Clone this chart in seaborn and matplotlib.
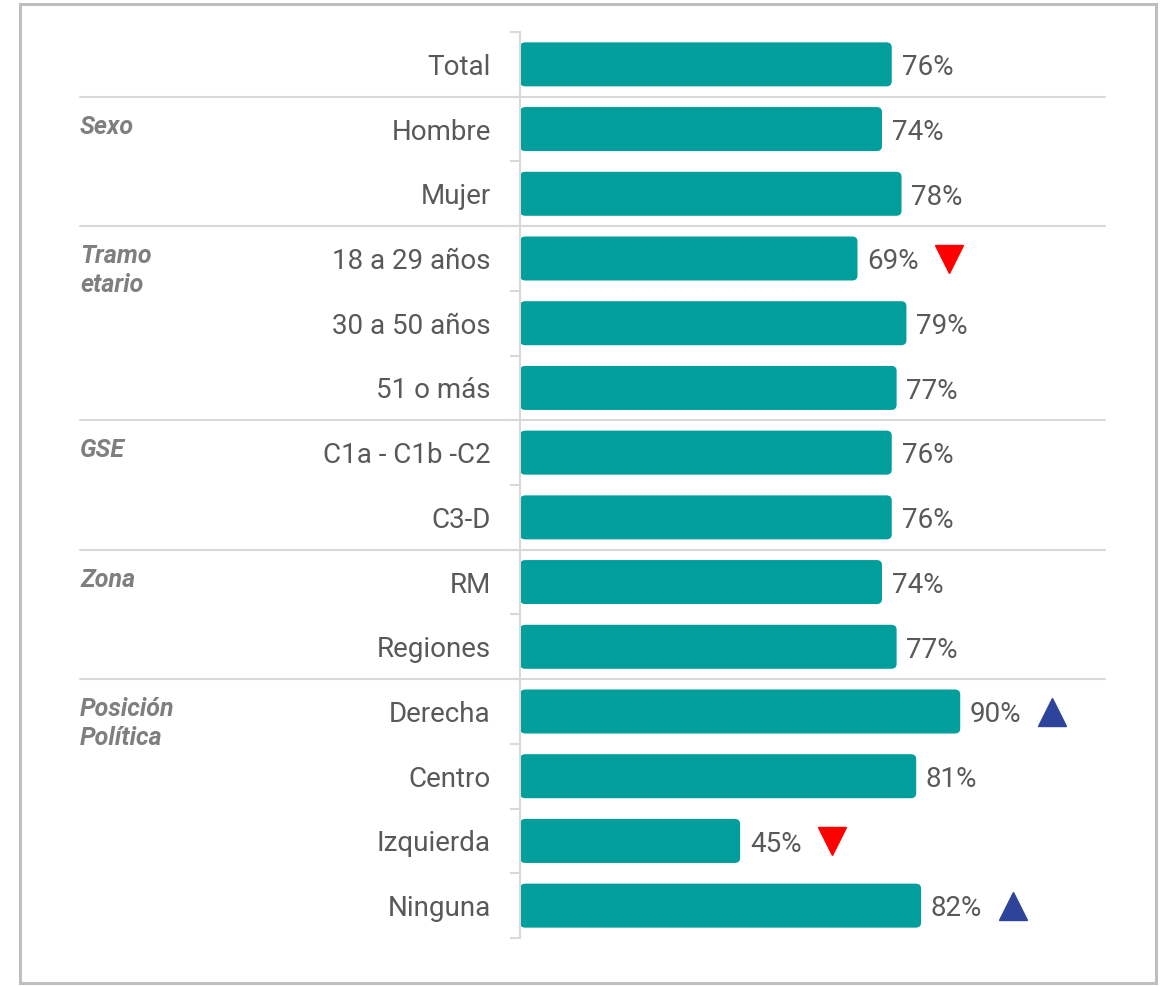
import matplotlib
matplotlib.use("Agg")
import matplotlib.pyplot as plt
import seaborn as sns
import pandas as pd
from matplotlib.patches import FancyBboxPatch, Rectangle

# Data
categories = ["Total", "Hombre", "Mujer", "18 a 29 años", "30 a 50 años", "51 o más",
              "C1a - C1b -C2", "C3-D", "RM", "Regiones",
              "Derecha", "Centro", "Izquierda", "Ninguna"]
values = [76, 74, 78, 69, 79, 77, 76, 76, 74, 77, 90, 81, 45, 82]
signif = ["", "", "", "down", "", "", "", "", "", "", "up", "", "down", "up"]

group_names = ["Sexo", "Tramo\netario", "GSE", "Zona", "Posición\nPolítica"]
group_first_row = [1, 3, 6, 8, 10]
separators = [0.5, 2.5, 5.5, 7.5, 9.5]

df = pd.DataFrame({"cat": categories, "val": values})

sns.set_theme(style="white")
plt.rcParams["font.family"] = ["Roboto", "DejaVu Sans"]

teal = "#019E9B"
txt_gray = "#595959"
grp_gray = "#7F7F7F"
line_gray = "#D9D9D9"

fig = plt.figure(figsize=(11.6, 9.86), dpi=100)
ax = fig.add_axes([520 / 1160, 1 - 938 / 986, 585 / 1160, 906 / 986])

sns.barplot(data=df, x="val", y="cat", color=teal, width=0.68, ax=ax,
            saturation=1, orient="h")

# rounded bar ends
for p in list(ax.patches):
    x0, y0 = p.get_x(), p.get_y()
    w, h = p.get_width(), p.get_height()
    p.set_visible(False)
    ax.add_patch(FancyBboxPatch((x0, y0), w, h,
                                boxstyle="round,pad=0,rounding_size=1.1",
                                mutation_aspect=0.07, facecolor=teal,
                                edgecolor="none"))

ax.set_xlim(0, 119.6)
ax.set_ylim(13.5, -0.5)
ax.set_xlabel("")
ax.set_ylabel("")
ax.set_xticks([])

for s in ["top", "right", "bottom"]:
    ax.spines[s].set_visible(False)
ax.spines["left"].set_color(line_gray)
ax.spines["left"].set_linewidth(1.5)

ax.tick_params(axis="y", which="major", length=0, pad=21,
               labelsize=20, labelcolor=txt_gray)
ax.set_yticks([i + 0.5 for i in range(-1, 14)], minor=True)
ax.tick_params(axis="y", which="minor", left=True, length=7,
               color=line_gray, width=1.5)

# value labels and significance markers
for i, (v, s) in enumerate(zip(values, signif)):
    ax.text(v + 2, i + 0.05, f"{v}%", va="center", ha="left",
            fontsize=20, color=txt_gray)
    if s == "down":
        ax.plot(v + 18.8, i, marker="v", markersize=20, color="#FF0000",
                linestyle="none", clip_on=False)
    elif s == "up":
        ax.plot(v + 18.8, i, marker="^", markersize=20, color="#2E439A",
                linestyle="none", clip_on=False)

# group separators
for y in separators:
    ax.plot([-0.752, 1.0], [y, y], transform=ax.get_yaxis_transform(),
            color=line_gray, linewidth=1.5, clip_on=False)

# group labels
for name, r in zip(group_names, group_first_row):
    ax.text(-0.752, r - 0.22, name, transform=ax.get_yaxis_transform(),
            ha="left", va="top", fontsize=18, fontweight="bold",
            fontstyle="italic", color=grp_gray, linespacing=1.25)

# outer frame
fig.add_artist(Rectangle((20 / 1160, 3 / 986), 1136 / 1160, 979 / 986,
                         transform=fig.transFigure, fill=False,
                         edgecolor="#BFBFBF", linewidth=2.2))

fig.savefig("out.png", dpi=100)
